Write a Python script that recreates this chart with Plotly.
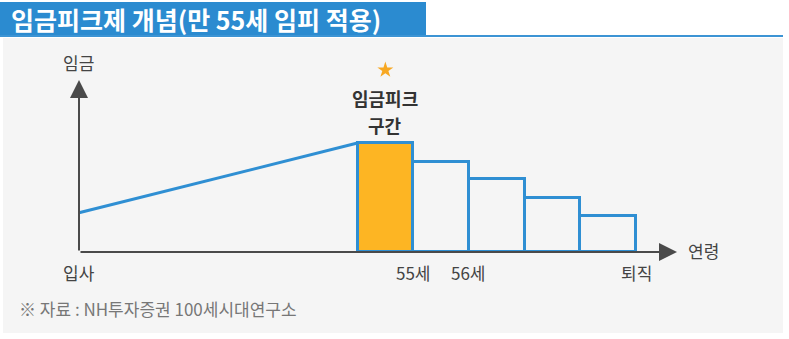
import plotly.graph_objects as go

# Conceptual wage curve: seniority rise from hiring to the peak year,
# then stepped reductions under the wage-peak scheme until retirement.
rise_x = [0, 5]
rise_y = [36, 100]

step_left = [5, 6, 7, 8, 9]          # start of each year after the peak
step_wage = [100, 83, 67, 50, 33]     # relative wage level in each year
step_fill = ["#FDB523", "rgba(0,0,0,0)", "rgba(0,0,0,0)", "rgba(0,0,0,0)", "rgba(0,0,0,0)"]

tick_pos = [0, 6, 7, 10]
tick_text = ["입사", "55세", "56세", "퇴직"]

title_text = "임금피크제 개념(만 55세 임피 적용)"
peak_label = ["임금피크", "구간"]
y_label = "임금"
x_label = "연령"
source_text = "※ 자료 : NH투자증권 100세시대연구소"

W, H = 789, 339
X0_PX, Y0_PX = 79, 252       # pixel position of the origin
PX_PER_X, PX_PER_Y = 55.7, 1.09

x_range = [-X0_PX / PX_PER_X, (W - X0_PX) / PX_PER_X]
y_range = [(Y0_PX - H) / PX_PER_Y, Y0_PX / PX_PER_Y]

def px_x(p):
    return (p - X0_PX) / PX_PER_X

def px_y(p):
    return (Y0_PX - p) / PX_PER_Y

BLUE = "#2F8FD3"
FONT = "Noto Sans CJK KR"

fig = go.Figure()

fig.add_trace(go.Bar(
    x=[v + 0.5 for v in step_left], y=step_wage, width=1,
    marker=dict(color=step_fill, line=dict(color=BLUE, width=3)),
    hoverinfo="skip", showlegend=False,
))

fig.add_trace(go.Scatter(
    x=rise_x, y=rise_y, mode="lines",
    line=dict(color=BLUE, width=3),
    hoverinfo="skip", showlegend=False,
))

# star above the peak year
fig.add_trace(go.Scatter(
    x=[step_left[0] + 0.5], y=[px_y(70)], mode="markers",
    marker=dict(symbol="star", size=12, color="#F7A823"),
    hoverinfo="skip", showlegend=False,
))

shapes = [
    # light grey panel
    dict(type="rect", xref="paper", yref="paper",
         x0=3 / W, x1=783 / W, y0=1 - 333 / H, y1=1 - 38 / H,
         fillcolor="#F5F5F5", line=dict(width=0), layer="below"),
    # title banner and rule
    dict(type="rect", xref="paper", yref="paper",
         x0=0, x1=426 / W, y0=1 - 36 / H, y1=1 - 2 / H,
         fillcolor="#2B8BD0", line=dict(width=0), layer="below"),
    dict(type="line", xref="paper", yref="paper",
         x0=0, x1=783 / W, y0=1 - 36 / H, y1=1 - 36 / H,
         line=dict(color="#3C94D4", width=2), layer="below"),
]

annotations = [
    dict(xref="paper", yref="paper", x=9 / W, y=1 - 19 / H,
         text=title_text, showarrow=False, xanchor="left", yanchor="middle",
         font=dict(family=FONT, size=25, color="white", weight="bold")),
    # axes with arrowheads
    dict(x=px_x(677), y=0, ax=0, ay=0, xref="x", yref="y", axref="x", ayref="y",
         text="", showarrow=True, arrowhead=2, arrowsize=1.8, arrowwidth=2,
         arrowcolor="#4A4A4A"),
    dict(x=0, y=px_y(80), ax=0, ay=0, xref="x", yref="y", axref="x", ayref="y",
         text="", showarrow=True, arrowhead=2, arrowsize=1.8, arrowwidth=2,
         arrowcolor="#4A4A4A"),
    dict(x=px_x(78), y=px_y(62), text=y_label, showarrow=False, yanchor="middle",
         font=dict(family=FONT, size=17, color="#444444")),
    dict(x=px_x(686), y=px_y(250), text=x_label, showarrow=False,
         xanchor="left", yanchor="middle",
         font=dict(family=FONT, size=17, color="#444444")),
    dict(xref="paper", yref="paper", x=17 / W, y=1 - 308 / H,
         text=source_text, showarrow=False, xanchor="left", yanchor="middle",
         font=dict(family=FONT, size=17, color="#777777")),
]

for txt, py in zip(peak_label, [98, 125]):
    annotations.append(dict(x=step_left[0] + 0.5, y=px_y(py), text=txt,
                            showarrow=False, yanchor="middle",
                            font=dict(family=FONT, size=18, color="#333333", weight="bold")))

for pos, txt in zip(tick_pos, tick_text):
    annotations.append(dict(x=pos, y=px_y(272), text=txt, showarrow=False,
                            yanchor="middle",
                            font=dict(family=FONT, size=17, color="#444444")))

fig.update_layout(
    width=W, height=H,
    margin=dict(l=0, r=0, t=0, b=0),
    paper_bgcolor="white", plot_bgcolor="rgba(0,0,0,0)",
    xaxis=dict(range=x_range, visible=False, fixedrange=True),
    yaxis=dict(range=y_range, visible=False, fixedrange=True),
    bargap=0,
    shapes=shapes,
    annotations=annotations,
)

fig.write_html("out.html")
